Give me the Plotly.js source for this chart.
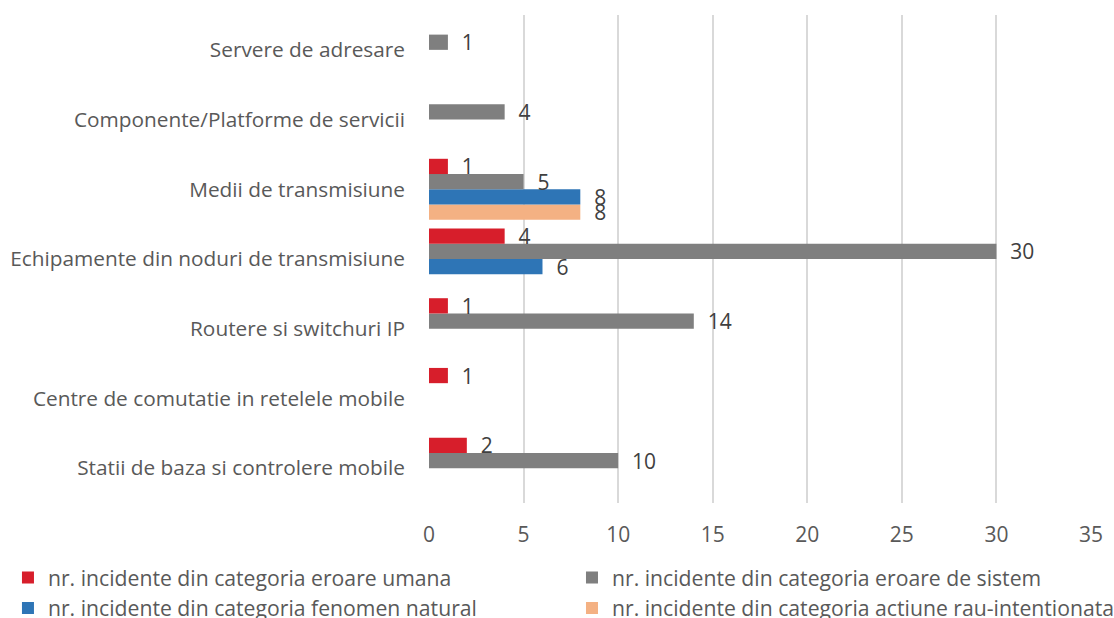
<!DOCTYPE html>
<html>
<head>
<meta charset="utf-8">
<script src="https://cdn.plot.ly/plotly-3.0.1.min.js"></script>
<style>html,body{margin:0;padding:0;background:#fff;}#chart{width:1114px;height:618px;}</style>
</head>
<body>
<div id="chart"></div>
<script>
var categories = [
  "Statii de baza si controlere mobile",
  "Centre de comutatie in retelele mobile",
  "Routere si switchuri IP",
  "Echipamente din noduri de transmisiune",
  "Medii de transmisiune",
  "Componente/Platforme de servicii",
  "Servere de adresare"
];
var eroareUmana    = [2, 1, 1, 4, 1, null, null];
var eroareSistem   = [10, null, 14, 30, 5, 4, 1];
var fenomenNatural = [null, null, null, 6, 8, null, null];
var actiuneRau     = [null, null, null, null, 8, null, null];

var seriesNames = [
  "nr. incidente din categoria eroare umana",
  "nr. incidente din categoria eroare de sistem",
  "nr. incidente din categoria fenomen natural",
  "nr. incidente din categoria actiune rau-intentionata"
];
var seriesColors = ["#D71E2B", "#7F7F7F", "#2E75B6", "#F4B183"];
var seriesLegends = ["legend", "legend2", "legend", "legend2"];
var seriesValues = [eroareUmana, eroareSistem, fenomenNatural, actiuneRau];

var font = "'Open Sans', sans-serif";
var fs = 21;
var traces = [];
for (var i = seriesValues.length - 1; i >= 0; i--) {
  traces.push({
    type: "bar",
    orientation: "h",
    name: seriesNames[i],
    legend: seriesLegends[i],
    x: seriesValues[i],
    y: categories,
    marker: {color: seriesColors[i]},
    text: seriesValues[i].map(function(v){ return v === null ? "" : "\u00a0\u00a0" + v; }),
    textposition: "outside",
    constraintext: "none",
    cliponaxis: false,
    textfont: {family: font, size: fs, color: "#404040"},
    hoverinfo: "x+name"
  });
}

var legendFont = {family: font, size: 21.2, color: "#595959"};
var layout = {
  width: 1114,
  height: 618,
  margin: {l: 429, r: 23, t: 15, b: 115, autoexpand: false},
  paper_bgcolor: "#fff",
  plot_bgcolor: "#fff",
  barmode: "group",
  bargap: 0.125,
  bargroupgap: 0,
  font: {family: font, size: fs, color: "#595959"},
  xaxis: {
    range: [0, 35],
    dtick: 5,
    showgrid: true,
    gridcolor: "#D9D9D9",
    gridwidth: 2,
    zeroline: false,
    showline: false,
    ticks: "",
    ticklabelstandoff: 17,
    tickfont: {family: font, size: fs, color: "#595959"},
    fixedrange: true
  },
  yaxis: {
    type: "category",
    categoryorder: "array",
    categoryarray: categories,
    showgrid: false,
    zeroline: false,
    showline: false,
    ticks: "",
    ticklabelstandoff: 23,
    tickfont: {family: font, size: 20.8, color: "#595959"},
    fixedrange: true
  },
  showlegend: true,
  legend: {
    orientation: "v",
    traceorder: "reversed",
    x: -0.636,
    xanchor: "left",
    y: -0.111,
    yanchor: "top",
    tracegroupgap: 0,
    font: legendFont,
    bgcolor: "rgba(0,0,0,0)"
  },
  legend2: {
    orientation: "v",
    traceorder: "reversed",
    x: 0.216,
    xanchor: "left",
    y: -0.111,
    yanchor: "top",
    tracegroupgap: 0,
    font: legendFont,
    bgcolor: "rgba(0,0,0,0)"
  }
};

Plotly.newPlot("chart", traces, layout, {displayModeBar: false, staticPlot: true});
</script>
</body>
</html>
